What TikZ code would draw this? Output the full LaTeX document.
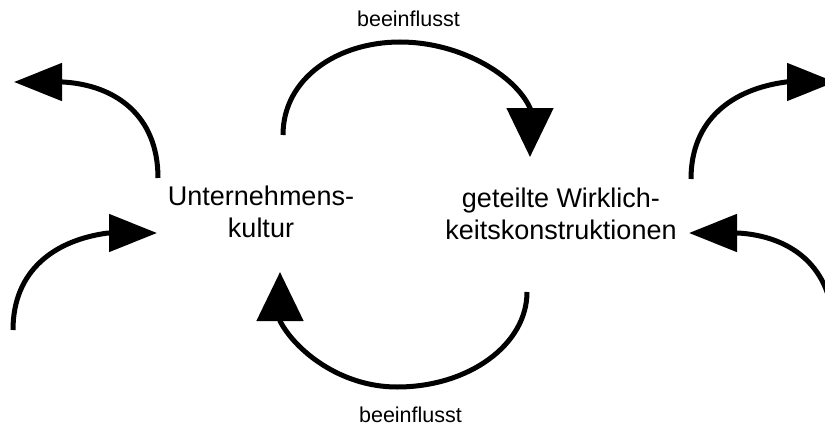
\documentclass[tikz,border=0pt]{standalone}
\usepackage{fontspec}
\setmainfont{Liberation Sans}
\usetikzlibrary{arrows.meta}
\begin{document}
\begin{tikzpicture}[x=1pt,y=-1pt,
  bigarrow/.style={line width=5pt, -{Triangle[width=46pt,length=49pt]}},
  sidearrow/.style={line width=5pt, -{Triangle[width=37pt,length=48pt]}},
  concept/.style={align=center, inner sep=0pt, font=\fontsize{27}{31.5}\selectfont},
  lbl/.style={inner sep=0pt, anchor=base, font=\fontsize{21.5}{25}\selectfont}]
\useasboundingbox (0,0) rectangle (825,428);
% texts
\node[concept] (uk) at (261,212) {Unternehmens-\\kultur};
\node[concept] (gw) at (561,214) {geteilte Wirklich-\\keitskonstruktionen};
\node[lbl] (b1) at (408.5,27) {beeinflusst};
\node[lbl] (b2) at (410.5,422) {beeinflusst};
% end points
\coordinate (ts) at (283,135);
\coordinate (tb) at (530,108);
\coordinate (tt) at (530,157);
\coordinate (bs) at (527,292);
\coordinate (bb) at (280,321);
\coordinate (bt) at (280,272);
\coordinate (lts) at (158,178);
\coordinate (ltb) at (63,82);
\coordinate (ltt) at (14,82);
\coordinate (lbs) at (13,330);
\coordinate (lbb) at (108,233);
\coordinate (lbt) at (157,233);
\coordinate (rts) at (691,179);
\coordinate (rtb) at (786,82);
\coordinate (rtt) at (835,82);
\coordinate (rbs) at (833,329);
\coordinate (rbb) at (738,233);
\coordinate (rbt) at (689,233);
% arrows
\draw[bigarrow] (ts) .. controls (283,78) and (338,42) .. (400,42)
  .. controls (460,42) and (515,75) .. (tb) -- (tt);
\draw[bigarrow] (bs) .. controls (527,344.5) and (469,387) .. (397,387)
  .. controls (340,387) and (295,350) .. (bb) -- (bt);
\draw[sidearrow] (lts) .. controls (158,115) and (115,85) .. (ltb) -- (ltt);
\draw[sidearrow] (lbs) .. controls (13,270) and (55,240) .. (lbb) -- (lbt);
\draw[sidearrow] (rts) .. controls (691,119) and (733,89) .. (rtb) -- (rtt);
\draw[sidearrow] (rbs) .. controls (833,266) and (790,236) .. (rbb) -- (rbt);
\end{tikzpicture}
\end{document}
